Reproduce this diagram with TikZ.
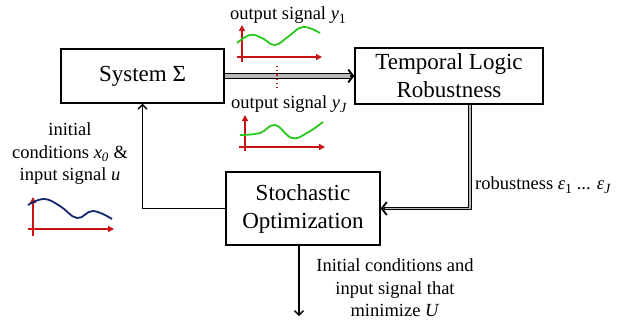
\documentclass[tikz,border=0pt]{standalone}
\usepackage{fontspec}
\setmainfont{Liberation Serif}
\usetikzlibrary{arrows.meta,calc}
\definecolor{axisred}{RGB}{200,20,20}
\definecolor{siggreen}{RGB}{40,200,30}
\definecolor{sigblue}{RGB}{20,40,110}
\newcommand{\isub}[2]{\textit{#1}\raisebox{-0.25em}{\fontsize{14}{14}\selectfont #2}}
\tikzset{
  blk/.style={draw=black, line width=1.3pt, inner sep=0pt, align=center, font=\fontsize{23}{28}\selectfont},
  lbl/.style={inner sep=0pt, align=center, font=\fontsize{18.5}{22.5}\selectfont},
  dblbig/.style={draw=black, line width=1.1pt, double=gray!55, double distance=3.5pt},
  dblsmall/.style={draw=black, line width=0.7pt, double=gray!55, double distance=1.8pt},
  bigtip/.style={line width=1.8pt, -{Straight Barb[length=5pt,width=13pt]}},
  thinarrow/.style={line width=1.4pt, -{Straight Barb[length=4.5pt,width=9pt]}},
  axis/.style={draw=axisred, line width=1.5pt, -{Triangle[length=6pt,width=6pt]}},
  sigg/.style={draw=siggreen, line width=1.8pt},
  sigb/.style={draw=sigblue, line width=1.8pt}
}
\begin{document}
\begin{tikzpicture}[x=1pt,y=-1pt]
\useasboundingbox (0,0) rectangle (624,322);
% blocks
\node[blk, minimum width=163pt, minimum height=54pt] (sys) at (142.5,76) {System Σ};
\node[blk, minimum width=188pt, minimum height=56pt] (tl) at (449,76) {Temporal Logic\\Robustness};
\node[blk, minimum width=154pt, minimum height=73pt] (so) at (303,208.5) {Stochastic\\Optimization};
% double arrow sys -> tl
\draw[dblbig] (sys.east) -- ($(tl.west)+(-3,0)$);
\draw[bigtip] ($(tl.west)+(-4,0)$) -- (tl.west);
% tl -> so
\coordinate (rbx) at (470,0);
\draw[dblsmall] (tl.south -| rbx) -- (rbx |- so.east) -- ($(so.east)+(3,0)$);
\draw[bigtip] ($(so.east)+(4,0)$) -- (so.east);
% so -> sys
\draw[thinarrow] (so.west) -| (sys.south);
% output
\coordinate (dn) at (299,316);
\draw[thinarrow] (so.south -| dn) -- (dn);
% dotted separator
\coordinate (d1) at (277,66);
\coordinate (d2) at (277,90);
\draw[draw=axisred, line width=1.2pt, dash pattern=on 1.2pt off 3pt] (d1) -- (d2);
% labels
\node[lbl] (o1) at (288,15) {output signal \isub{y}{1}};
\node[lbl] (oj) at (289,104) {output signal \isub{y}{\textit{J}}};
\node[lbl, anchor=west] (rob) at (475,185) {robustness \isub{ε}{1} ... \isub{ε}{\textit{J}}};
\node[lbl] (ic) at (70,154) {initial\\conditions \textit{x}\textsubscript{\textit{0}} \&\\input signal \textit{u}};
\node[lbl] (out) at (395,288) {Initial conditions and\\input signal that\\minimize \textit{U}};
% plot y1
\draw[axis] (242,62) -- (242,25);
\draw[axis] (237,57) -- (322,57);
\draw[sigg] plot[smooth, tension=0.7] coordinates {(237,43) (250,35) (262,38) (275,45) (289,36) (303,27) (320,33)};
% plot yJ
\draw[axis] (245,151) -- (245,115);
\draw[axis] (239,147) -- (325,147);
\draw[sigg] plot[smooth, tension=0.7] coordinates {(240,135) (260,133) (275,125) (292,138) (307,133) (323,122)};
% plot u
\draw[axis] (33,236) -- (33,197);
\draw[axis] (28,229) -- (114,229);
\draw[sigb] plot[smooth, tension=0.7] coordinates {(28,205) (44,199) (60,206) (77,218) (93,211) (112,219)};
\end{tikzpicture}
\end{document}
